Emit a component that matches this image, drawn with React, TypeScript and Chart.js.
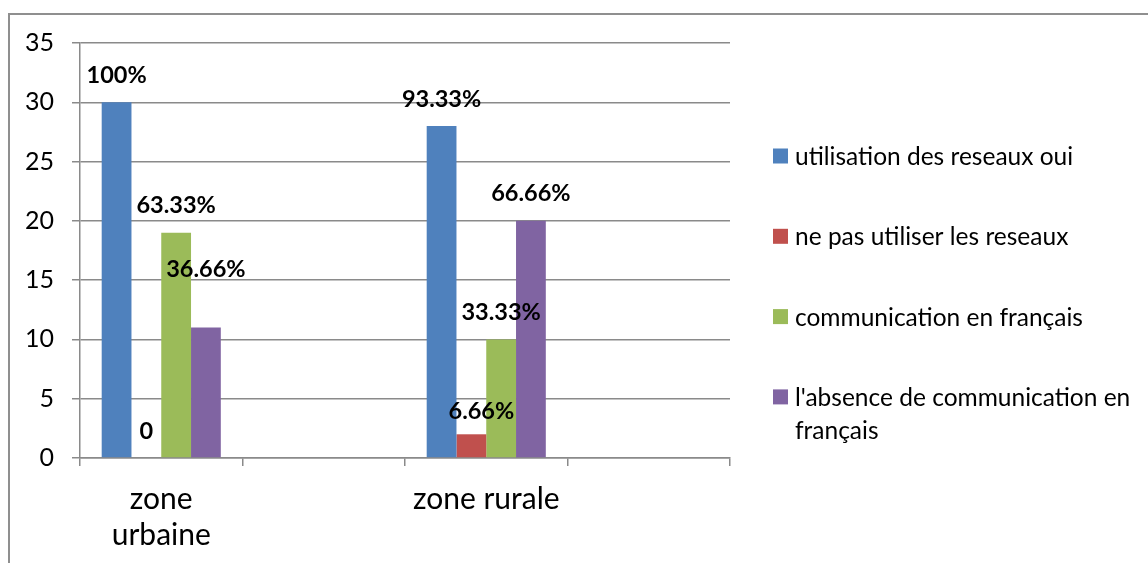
import React, { useEffect, useRef } from "react";
import { Chart, registerables } from "chart.js";

Chart.register(...registerables);

// ---- data ----
const categories: (string | string[])[] = [["zone", "urbaine"], "", "zone rurale", ""];
const seriesNames = [
  "utilisation des reseaux oui",
  "ne pas utiliser les reseaux",
  "communication en français",
  "l'absence de communication en français",
];
const usageYes = [30, null, 28, null];
const usageNo = [0, null, 2, null];
const frenchYes = [19, null, 10, null];
const frenchNo = [11, null, 20, null];
const usageYesLabels = ["100%", "", "93.33%", ""];
const usageNoLabels = ["0", "", "6.66%", ""];
const frenchYesLabels = ["63.33%", "", "33.33%", ""];
const frenchNoLabels = ["36.66%", "", "66.66%", ""];
const yTicks = [0, 5, 10, 15, 20, 25, 30, 35];

// ---- styles ----
const colors = ["#4F81BD", "#C0504D", "#9BBB59", "#8064A2"];
const FONT = "Lato, 'Open Sans', sans-serif";
const GRID = "#8a8a8a";

function wrapText(ctx: CanvasRenderingContext2D, text: string, maxWidth: number): string[] {
  const words = text.split(" ");
  const lines: string[] = [];
  let cur = "";
  for (const w of words) {
    const test = cur ? cur + " " + w : w;
    if (ctx.measureText(test).width > maxWidth && cur) {
      lines.push(cur);
      cur = w;
    } else {
      cur = test;
    }
  }
  if (cur) lines.push(cur);
  return lines;
}

const sideLegend = {
  id: "sideLegend",
  afterDraw(chart: any, _args: any, opts: any) {
    const ctx: CanvasRenderingContext2D = chart.ctx;
    ctx.save();
    ctx.font = `${opts.size}px ${FONT}`;
    ctx.textBaseline = "middle";
    ctx.textAlign = "left";
    chart.data.datasets.forEach((ds: any, i: number) => {
      const cy = opts.top + i * opts.spacing;
      ctx.fillStyle = ds.backgroundColor;
      ctx.fillRect(opts.x, cy - opts.box / 2, opts.box, opts.box);
      ctx.fillStyle = "#000";
      const lines = wrapText(ctx, ds.label, opts.maxWidth);
      lines.forEach((ln, j) => ctx.fillText(ln, opts.x + opts.box + opts.gap, cy + opts.textDy + j * opts.lineHeight));
    });
    ctx.restore();
  },
};

const valueLabels = {
  id: "valueLabels",
  afterDatasetsDraw(chart: any, _args: any, opts: any) {
    const ctx: CanvasRenderingContext2D = chart.ctx;
    ctx.save();
    ctx.font = `bold ${opts.size}px ${FONT}`;
    ctx.textAlign = "center";
    ctx.textBaseline = "middle";
    ctx.fillStyle = "#000";
    chart.data.datasets.forEach((ds: any, di: number) => {
      const meta = chart.getDatasetMeta(di);
      meta.data.forEach((bar: any, idx: number) => {
        const txt = ds.valueLabels?.[idx];
        if (!txt) return;
        const n = opts.nudges[`${di}-${idx}`] || { dx: 0, dy: 0 };
        ctx.fillText(txt, bar.x + n.dx, bar.y - opts.offset + n.dy);
      });
    });
    ctx.restore();
  },
};

export default function App() {
  const ref = useRef<HTMLCanvasElement>(null);

  useEffect(() => {
    if (!ref.current) return;
    const seriesValues = [usageYes, usageNo, frenchYes, frenchNo];
    const seriesLabels = [usageYesLabels, usageNoLabels, frenchYesLabels, frenchNoLabels];
    const chart = new Chart(ref.current, {
      type: "bar",
      data: {
        labels: categories,
        datasets: seriesNames.map((name, i) => ({
          label: name,
          data: seriesValues[i],
          backgroundColor: colors[i],
          borderWidth: 0,
          categoryPercentage: 0.733,
          barPercentage: 1,
          valueLabels: seriesLabels[i],
        })) as any,
      },
      options: {
        responsive: false,
        animation: false,
        layout: { padding: { left: 0, top: 43, right: 418, bottom: 0 } },
        plugins: {
          legend: { display: false },
          tooltip: { enabled: false },
          sideLegend: {
            x: 773,
            top: 156,
            spacing: 80.3,
            box: 15,
            gap: 7,
            size: 24.5,
            lineHeight: 33,
            textDy: 1,
            maxWidth: 350,
          },
          valueLabels: {
            size: 23.5,
            offset: 27,
            nudges: { "3-0": { dx: 0, dy: -31 }, "1-2": { dx: 10, dy: 4 } },
          },
        } as any,
        scales: {
          x: {
            offset: true,
            grid: {
              display: true,
              drawOnChartArea: false,
              drawTicks: true,
              tickLength: 8,
              color: GRID,
              lineWidth: 1.5,
              offset: true,
            },
            border: { display: true, color: GRID, width: 1.5 },
            ticks: {
              autoSkip: false,
              maxRotation: 0,
              minRotation: 0,
              padding: 15,
              color: "#000",
              font: { family: FONT, size: 30, lineHeight: 1.2 },
            },
            afterFit: (s: any) => {
              s.height = 105;
            },
          },
          y: {
            min: 0,
            max: 35,
            afterBuildTicks: (s: any) => {
              s.ticks = yTicks.map((v) => ({ value: v }));
            },
            grid: {
              color: GRID,
              lineWidth: 1.5,
              drawTicks: true,
              tickLength: 8,
            },
            border: { display: true, color: GRID, width: 1.5 },
            ticks: {
              padding: 18,
              color: "#000",
              font: { family: FONT, size: 25 },
            },
            afterFit: (s: any) => {
              s.width = 80;
            },
          },
        },
      },
      plugins: [sideLegend, valueLabels],
    });
    return () => chart.destroy();
  }, []);

  return (
    <div style={{ position: "fixed", left: 0, top: 0, width: 1148, height: 563, overflow: "hidden", background: "#fff" }}>
      <div
        style={{
          position: "absolute",
          left: 8,
          top: 13,
          width: 1300,
          height: 700,
          border: "2px solid #8f8f8f",
          boxSizing: "border-box",
        }}
      />
      <canvas
        ref={ref}
        width={1148}
        height={563}
        style={{ position: "absolute", left: 0, top: 0, width: 1148, height: 563 }}
      />
    </div>
  );
}
